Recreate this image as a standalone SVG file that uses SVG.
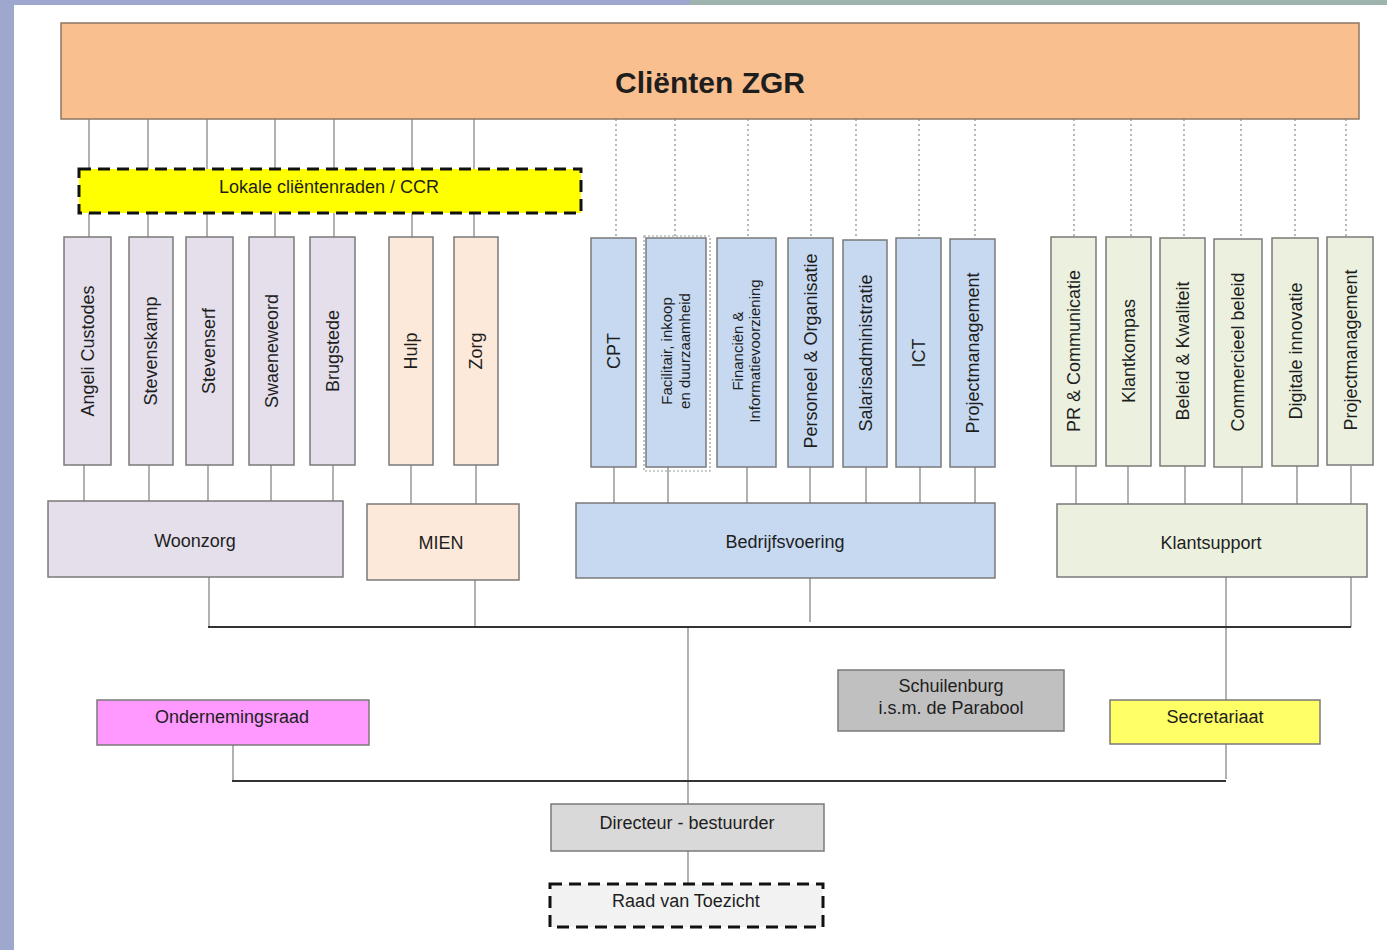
<svg xmlns="http://www.w3.org/2000/svg" width="1387" height="950" viewBox="0 0 1387 950">
<style>
text{font-family:"Liberation Sans",Arial,sans-serif;fill:#1e1e1e;}
.t18{font-size:18px;}
.t15{font-size:15px;}
.box{stroke:#7a7a7a;stroke-width:1.5;}
.lav{fill:#e4dfeb;}
.pea{fill:#fde9d9;}
.blu{fill:#c6d9f1;}
.grn{fill:#ebf1de;}
.ln{stroke:#7f7f7f;stroke-width:1.2;fill:none;}
.dl{stroke:#8a8a8a;stroke-width:1.2;stroke-dasharray:2,3;fill:none;}
.hl{stroke:#333;stroke-width:2;fill:none;}
.dash{stroke:#111;stroke-width:3;stroke-dasharray:12,7;}
</style>
<rect x="0" y="0" width="1387" height="950" fill="#ffffff"/>
<rect x="0" y="0" width="14" height="950" fill="#9ea7cd"/>
<rect x="0" y="0" width="690" height="5" fill="#9ea7cd"/>
<rect x="690" y="0" width="697" height="5" fill="#9fb3ae"/>

<g id="connectors">
<!-- top to Woonzorg/MIEN units -->
<path class="ln" d="M89 119V237M148 119V237M207 119V237M275 119V237M334 119V237M412 119V237M474 119V237"/>
<!-- dashed to Bedrijfsvoering / Klantsupport units -->
<path class="dl" d="M616 119V238M675 119V238M748 119V238M811 119V238M856 119V238M919 119V238M975 119V238M1074 119V237M1131 119V237M1184 119V237M1241 119V237M1295 119V237M1346 119V237"/>
<!-- units to groups -->
<path class="ln" d="M84 465V501M149 465V501M208 465V501M271 465V501M333 465V501M411 465V504M476 465V504"/>
<path class="ln" d="M614 467V503M668 467V503M747 467V503M810 467V503M866 467V503M920 467V503M975 467V503"/>
<path class="ln" d="M1076 466V504M1128 466V504M1185 466V504M1242 466V504M1297 466V504M1351 466V504"/>
<!-- groups to line -->
<path class="ln" d="M209 577V627M475 580V627M810 578V622M1351 577V627M1226 577V779M688 627V804M233 745V781M688 851V884"/>
<path class="hl" d="M208 627H1351M232 781H1226"/>
</g>

<g id="clienten-zgr">
<rect x="61" y="23" width="1298" height="96" fill="#f9bf8f" stroke="#8c7764" stroke-width="1.5"/>
<text x="710" y="93" font-size="30" font-weight="bold" text-anchor="middle">Cliënten ZGR</text>
</g>

<g id="lokale-clientenraden">
<rect x="79" y="169" width="502" height="44" fill="#ffff00" class="dash"/>
<text class="t18" x="329" y="193" text-anchor="middle">Lokale cliëntenraden / CCR</text>
</g>

<g id="angeli-custodes"><rect class="box lav" x="64" y="237" width="47" height="228"/><text class="t18" transform="translate(88,351) rotate(-90)" text-anchor="middle" dominant-baseline="central">Angeli Custodes</text></g>
<g id="stevenskamp"><rect class="box lav" x="129" y="237" width="44" height="228"/><text class="t18" transform="translate(151,351) rotate(-90)" text-anchor="middle" dominant-baseline="central">Stevenskamp</text></g>
<g id="stevenserf"><rect class="box lav" x="186" y="237" width="47" height="228"/><text class="t18" transform="translate(209,351) rotate(-90)" text-anchor="middle" dominant-baseline="central">Stevenserf</text></g>
<g id="swaeneweord"><rect class="box lav" x="249" y="237" width="45" height="228"/><text class="t18" transform="translate(272,351) rotate(-90)" text-anchor="middle" dominant-baseline="central">Swaeneweord</text></g>
<g id="brugstede"><rect class="box lav" x="310" y="237" width="45" height="228"/><text class="t18" transform="translate(333,351) rotate(-90)" text-anchor="middle" dominant-baseline="central">Brugstede</text></g>
<g id="hulp"><rect class="box pea" x="389" y="237" width="44" height="228"/><text class="t18" transform="translate(411,351) rotate(-90)" text-anchor="middle" dominant-baseline="central">Hulp</text></g>
<g id="zorg"><rect class="box pea" x="454" y="237" width="44" height="228"/><text class="t18" transform="translate(476,351) rotate(-90)" text-anchor="middle" dominant-baseline="central">Zorg</text></g>

<g id="cpt"><rect class="box blu" x="591" y="238" width="45" height="229"/><text class="t18" transform="translate(614,351) rotate(-90)" text-anchor="middle" dominant-baseline="central">CPT</text></g>
<g id="facilitair">
<rect x="644" y="236" width="66" height="235" fill="none" stroke="#999" stroke-width="1.2" stroke-dasharray="2,2"/>
<rect class="box blu" x="646" y="238" width="60" height="229"/>
<text class="t15" transform="translate(676,351) rotate(-90)" text-anchor="middle"><tspan x="0" y="-4">Facilitair, inkoop</tspan><tspan x="0" y="14">en duurzaamheid</tspan></text>
</g>
<g id="financien"><rect class="box blu" x="717" y="238" width="59" height="229"/>
<text class="t15" transform="translate(747,351) rotate(-90)" text-anchor="middle"><tspan x="0" y="-4">Financiën &amp;</tspan><tspan x="0" y="13">Informatievoorziening</tspan></text></g>
<g id="personeel"><rect class="box blu" x="788" y="238" width="45" height="229"/><text class="t18" transform="translate(811,351) rotate(-90)" text-anchor="middle" dominant-baseline="central">Personeel &amp; Organisatie</text></g>
<g id="salarisadministratie"><rect class="box blu" x="843" y="240" width="44" height="227"/><text class="t18" transform="translate(866,353) rotate(-90)" text-anchor="middle" dominant-baseline="central">Salarisadministratie</text></g>
<g id="ict"><rect class="box blu" x="896" y="238" width="45" height="229"/><text class="t18" transform="translate(919,353) rotate(-90)" text-anchor="middle" dominant-baseline="central">ICT</text></g>
<g id="projectmanagement-bv"><rect class="box blu" x="950" y="239" width="45" height="228"/><text class="t18" transform="translate(973,353) rotate(-90)" text-anchor="middle" dominant-baseline="central">Projectmanagement</text></g>

<g id="pr-communicatie"><rect class="box grn" x="1051" y="237" width="45" height="229"/><text class="t18" transform="translate(1074,351) rotate(-90)" text-anchor="middle" dominant-baseline="central">PR &amp; Communicatie</text></g>
<g id="klantkompas"><rect class="box grn" x="1106" y="237" width="45" height="229"/><text class="t18" transform="translate(1129,351) rotate(-90)" text-anchor="middle" dominant-baseline="central">Klantkompas</text></g>
<g id="beleid-kwaliteit"><rect class="box grn" x="1160" y="238" width="45" height="228"/><text class="t18" transform="translate(1183,351) rotate(-90)" text-anchor="middle" dominant-baseline="central">Beleid &amp; Kwaliteit</text></g>
<g id="commercieel-beleid"><rect class="box grn" x="1214" y="239" width="48" height="228"/><text class="t18" transform="translate(1238,352) rotate(-90)" text-anchor="middle" dominant-baseline="central">Commercieel beleid</text></g>
<g id="digitale-innovatie"><rect class="box grn" x="1272" y="238" width="46" height="228"/><text class="t18" transform="translate(1296,351) rotate(-90)" text-anchor="middle" dominant-baseline="central">Digitale innovatie</text></g>
<g id="projectmanagement-ks"><rect class="box grn" x="1327" y="237" width="46" height="228"/><text class="t18" transform="translate(1351,350) rotate(-90)" text-anchor="middle" dominant-baseline="central">Projectmanagement</text></g>

<g id="woonzorg"><rect class="box lav" x="48" y="501" width="295" height="76"/><text class="t18" x="195" y="547" text-anchor="middle">Woonzorg</text></g>
<g id="mien"><rect class="box pea" x="367" y="504" width="152" height="76"/><text class="t18" x="441" y="549" text-anchor="middle">MIEN</text></g>
<g id="bedrijfsvoering"><rect class="box blu" x="576" y="503" width="419" height="75"/><text class="t18" x="785" y="548" text-anchor="middle">Bedrijfsvoering</text></g>
<g id="klantsupport"><rect class="box grn" x="1057" y="504" width="310" height="73"/><text class="t18" x="1211" y="549" text-anchor="middle">Klantsupport</text></g>

<g id="ondernemingsraad"><rect class="box" x="97" y="700" width="272" height="45" fill="#ff99ff"/><text class="t18" x="232" y="723" text-anchor="middle">Ondernemingsraad</text></g>
<g id="schuilenburg"><rect class="box" x="838" y="670" width="226" height="61" fill="#c0c0c0"/><text class="t18" x="951" text-anchor="middle"><tspan x="951" y="692">Schuilenburg</tspan><tspan x="951" y="714">i.s.m. de Parabool</tspan></text></g>
<g id="secretariaat"><rect class="box" x="1110" y="700" width="210" height="44" fill="#ffff66"/><text class="t18" x="1215" y="723" text-anchor="middle">Secretariaat</text></g>
<g id="directeur-bestuurder"><rect class="box" x="551" y="804" width="273" height="47" fill="#d9d9d9"/><text class="t18" x="687" y="829" text-anchor="middle">Directeur - bestuurder</text></g>
<g id="raad-van-toezicht"><rect x="550" y="884" width="273" height="43" fill="#f2f2f2" class="dash"/><text class="t18" x="686" y="907" text-anchor="middle">Raad van Toezicht</text></g>
</svg>
